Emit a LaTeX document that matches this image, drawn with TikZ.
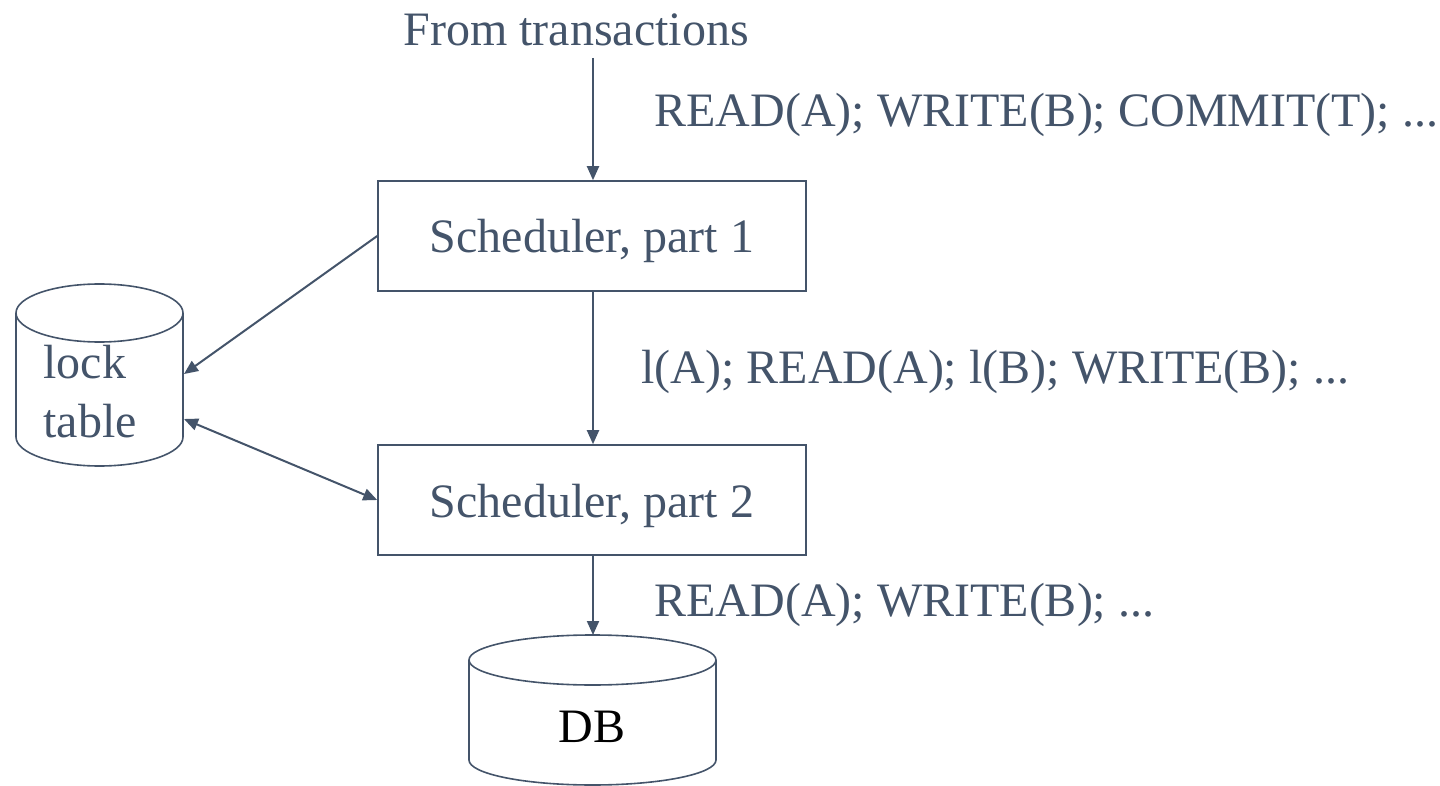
\documentclass[tikz,border=0pt]{standalone}
\usepackage{fontspec}
\setmainfont{Liberation Serif}
\usetikzlibrary{arrows.meta}
\definecolor{ink}{HTML}{44546A}
\tikzset{
  every node/.style={font=\fontsize{24}{29.5}\selectfont, text=ink, inner sep=0pt},
  wire/.style={draw=ink, line width=1pt, -{Triangle[length=7pt,width=6pt]}},
  biwire/.style={draw=ink, line width=1pt, {Triangle[length=7pt,width=6pt]}-{Triangle[length=7pt,width=6pt]}},
  stagebox/.style={draw=ink, line width=0.8pt, minimum width=214pt, minimum height=55pt,
    text height=20pt, text depth=3pt},
  drum/.style={draw=ink, line width=0.8pt},
  msg/.style={anchor=base west},
}
\begin{document}
\begin{tikzpicture}[x=0.5pt,y=-0.5pt]
\useasboundingbox (0,0) rectangle (1440,786);

% source label and scheduler stages
\node (src) at (576,30) {From transactions};
\coordinate (srcend) at (593,58);
\node[stagebox] (s1) at (592,236) {Scheduler, part 1};
\node[stagebox] (s2) at (592,500) {Scheduler, part 2};

% lock table drum
\draw[drum] (16,313) -- (16,437) arc[start angle=180, end angle=0, x radius=83.5, y radius=29] -- (183,313);
\draw[drum] (99.5,313) ellipse[x radius=83.5, y radius=29];
\node[align=left, anchor=west] (lock) at (43,392) {lock\\table};
\coordinate (lockin) at (184,374);
\coordinate (lockio) at (184,419);

% database drum
\draw[drum] (469,660) -- (469,760) arc[start angle=180, end angle=0, x radius=123.5, y radius=25] -- (716,660);
\draw[drum] (592.5,660) ellipse[x radius=123.5, y radius=25];
\node[text=black] (db) at (592,727) {DB};
\coordinate (dbtop) at (593,635);

% flows
\draw[wire] (srcend) -- (s1.north -| srcend);
\draw[wire] (s1.south -| srcend) -- (s2.north -| srcend);
\draw[wire] (s2.south -| srcend) -- (dbtop);
\draw[wire] (s1.west) -- (lockin);
\draw[biwire] (lockio) -- (s2.west);

% message streams
\node[msg] (m1) at (654,127) {READ(A); WRITE(B); COMMIT(T); ...};
\node[msg] (m2) at (641,383) {l(A); READ(A); l(B); WRITE(B); ...};
\node[msg] (m3) at (654,616) {READ(A); WRITE(B); ...};
\end{tikzpicture}
\end{document}
